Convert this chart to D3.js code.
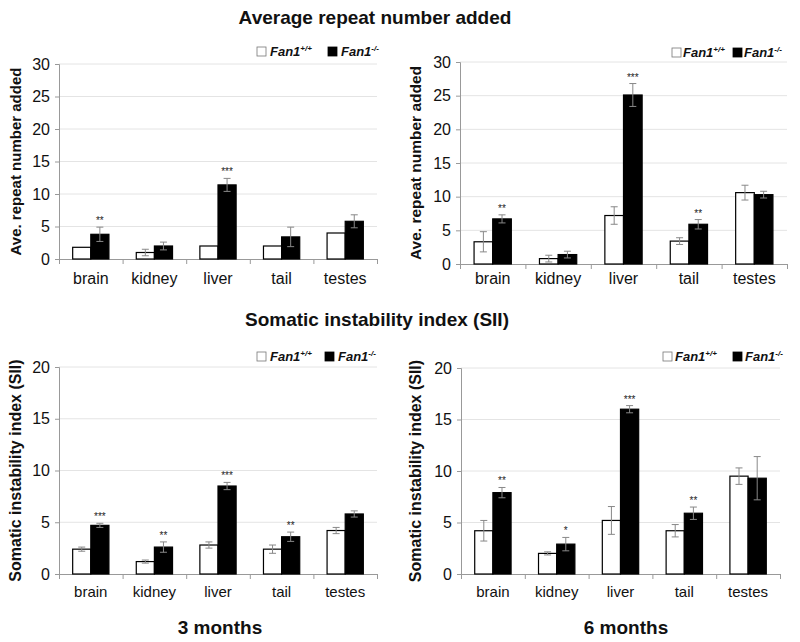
<!DOCTYPE html>
<html>
<head>
<meta charset="utf-8">
<script src="https://cdn.jsdelivr.net/npm/d3@7"></script>
<style>
  body { margin: 0; background: #fff; }
  svg { display: block; }
  text { font-family: "Liberation Sans", Arial, sans-serif; fill: #111; }
</style>
</head>
<body>
<svg id="chart" width="800" height="642"></svg>
<script>
// tissues and genotypes
const categories = ["brain", "kidney", "liver", "tail", "testes"];
const seriesNames = ["+/+", "-/-"];

// average repeat number added, 3 months
const avg3WT = [1.8, 1.0, 2.0, 2.0, 4.0];
const avg3WTErr = [0, 0.5, 0, 0, 0];
const avg3KO = [3.8, 2.0, 11.4, 3.4, 5.8];
const avg3KOErr = [1.1, 0.6, 1.0, 1.5, 1.0];
const avg3Stars = ["**", "", "***", "", ""];

// average repeat number added, 6 months
const avg6WT = [3.3, 0.8, 7.2, 3.4, 10.6];
const avg6WTErr = [1.5, 0.5, 1.3, 0.5, 1.1];
const avg6KO = [6.7, 1.4, 25.1, 5.9, 10.3];
const avg6KOErr = [0.6, 0.5, 1.7, 0.7, 0.5];
const avg6Stars = ["**", "", "***", "**", ""];

// somatic instability index, 3 months
const sii3WT = [2.4, 1.2, 2.8, 2.4, 4.2];
const sii3WTErr = [0.2, 0.15, 0.3, 0.4, 0.3];
const sii3KO = [4.7, 2.6, 8.5, 3.6, 5.8];
const sii3KOErr = [0.2, 0.5, 0.35, 0.45, 0.3];
const sii3Stars = ["***", "**", "***", "**", ""];

// somatic instability index, 6 months
const sii6WT = [4.2, 2.0, 5.2, 4.2, 9.5];
const sii6WTErr = [1.0, 0.15, 1.35, 0.6, 0.8];
const sii6KO = [7.9, 2.9, 16.0, 5.9, 9.3];
const sii6KOErr = [0.5, 0.65, 0.35, 0.6, 2.1];
const sii6Stars = ["**", "*", "***", "**", ""];

const avgTicks = [0, 5, 10, 15, 20, 25, 30];
const siiTicks = [0, 5, 10, 15, 20];

const svg = d3.select("#chart");

function panel(opt) {
  const g = svg.append("g");
  const y = d3.scaleLinear().domain([0, opt.max]).range([opt.y0, opt.yTop]);
  const x = d3.scaleBand().domain(categories).range([opt.x0, opt.x1])
    .paddingInner(0.43).paddingOuter(0.215);
  const xs = d3.scaleBand().domain(seriesNames).range([0, x.bandwidth()]);

  // gridlines
  g.selectAll(".grid").data(opt.ticks.slice(1)).enter().append("line")
    .attr("x1", opt.x0).attr("x2", opt.x1)
    .attr("y1", d => y(d)).attr("y2", d => y(d))
    .attr("stroke", "#e4e4e4").attr("stroke-width", 1);

  // y axis
  const ya = g.append("g").attr("transform", `translate(${opt.x0},0)`)
    .call(d3.axisLeft(y).tickValues(opt.ticks).tickSize(4).tickPadding(5));
  ya.select(".domain").attr("stroke", "#999");
  ya.selectAll(".tick line").attr("stroke", "#999");
  ya.selectAll(".tick text").style("font-size", "16px").style("font-family", "Liberation Sans, Arial").attr("fill", "#222");

  // x axis: boundary ticks and labels
  const lin = d3.scaleLinear().domain([0, categories.length]).range([opt.x0, opt.x1]);
  const xa = g.append("g").attr("transform", `translate(0,${opt.y0})`)
    .call(d3.axisBottom(lin).ticks(categories.length).tickSize(5).tickFormat(""));
  xa.select(".domain").attr("stroke", "#999");
  xa.selectAll(".tick line").attr("stroke", "#999");
  g.selectAll(".cat").data(categories).enter().append("text")
    .attr("x", d => x(d) + x.bandwidth() / 2)
    .attr("y", opt.y0 + opt.labelDy)
    .attr("text-anchor", "middle")
    .style("font-size", opt.catSize + "px")
    .text(d => d);

  // bars
  const rows = [];
  categories.forEach((c, i) => {
    rows.push({ c, s: "+/+", v: opt.wt[i], e: opt.wtErr[i], fill: "#fff" });
    rows.push({ c, s: "-/-", v: opt.ko[i], e: opt.koErr[i], fill: "#000", star: opt.stars[i] });
  });
  g.selectAll(".bar").data(rows).enter().append("rect")
    .attr("x", d => x(d.c) + xs(d.s))
    .attr("y", d => y(d.v))
    .attr("width", xs.bandwidth())
    .attr("height", d => opt.y0 - y(d.v))
    .attr("fill", d => d.fill)
    .attr("stroke", "#000").attr("stroke-width", 1.2);

  // error bars
  const eb = rows.filter(d => d.e > 0);
  const cx = d => x(d.c) + xs(d.s) + xs.bandwidth() / 2;
  g.selectAll(".err").data(eb).enter().append("line")
    .attr("x1", cx).attr("x2", cx)
    .attr("y1", d => y(d.v + d.e)).attr("y2", d => y(d.v - d.e))
    .attr("stroke", "#888").attr("stroke-width", 1);
  [1, -1].forEach(sgn => {
    g.selectAll(".cap" + sgn).data(eb).enter().append("line")
      .attr("x1", d => cx(d) - 3.5).attr("x2", d => cx(d) + 3.5)
      .attr("y1", d => y(d.v + sgn * d.e)).attr("y2", d => y(d.v + sgn * d.e))
      .attr("stroke", "#888").attr("stroke-width", 1);
  });

  // significance
  g.selectAll(".star").data(rows.filter(d => d.star)).enter().append("text")
    .attr("x", cx)
    .attr("y", d => y(d.v + d.e) - 3)
    .attr("text-anchor", "middle")
    .style("font-size", "10px").style("fill", "#222")
    .text(d => d.star);

  // y label
  g.append("text")
    .attr("transform", `translate(${opt.labelX},${(opt.y0 + opt.yTop) / 2}) rotate(-90)`)
    .attr("text-anchor", "middle").attr("dominant-baseline", "middle")
    .style("font-size", opt.ySize + "px").style("font-weight", "bold")
    .text(opt.ylabel);

  // legend
  const lg = g.append("g").attr("transform", `translate(${opt.legX},${opt.legY})`);
  [["#fff", "+/+", 0], ["#000", "-/-", opt.legGap]].forEach(([f, sup, dx]) => {
    lg.append("rect").attr("x", dx).attr("y", -9).attr("width", 9).attr("height", 9)
      .attr("fill", f).attr("stroke", f === "#fff" ? "#777" : "#000").attr("stroke-width", 0.8);
    const t = lg.append("text").attr("x", dx + opt.legTxt).attr("y", 0)
      .style("font-size", "13px").style("font-weight", "bold").style("font-style", "italic");
    t.append("tspan").text("Fan1");
    t.append("tspan").attr("dy", -5).style("font-size", "8px").text(sup);
  });
}

panel({ x0: 59, x1: 377, yTop: 64, y0: 259, max: 30, ticks: avgTicks,
  wt: avg3WT, wtErr: avg3WTErr, ko: avg3KO, koErr: avg3KOErr, stars: avg3Stars,
  ylabel: "Ave. repeat number added", labelX: 17, labelDy: 25, catSize: 16, ySize: 15,
  legX: 257, legY: 56, legGap: 71, legTxt: 13 });
panel({ x0: 460, x1: 787, yTop: 62, y0: 264, max: 30, ticks: avgTicks,
  wt: avg6WT, wtErr: avg6WTErr, ko: avg6KO, koErr: avg6KOErr, stars: avg6Stars,
  ylabel: "Ave. repeat number added", labelX: 417, labelDy: 20, catSize: 16, ySize: 15.5,
  legX: 672, legY: 57, legGap: 61, legTxt: 11 });
panel({ x0: 59, x1: 377, yTop: 367, y0: 574, max: 20, ticks: siiTicks,
  wt: sii3WT, wtErr: sii3WTErr, ko: sii3KO, koErr: sii3KOErr, stars: sii3Stars,
  ylabel: "Somatic instability index (SII)", labelX: 17, labelDy: 23, catSize: 15, ySize: 16,
  legX: 257, legY: 361, legGap: 68, legTxt: 13 });
panel({ x0: 461, x1: 780, yTop: 368, y0: 574, max: 20, ticks: siiTicks,
  wt: sii6WT, wtErr: sii6WTErr, ko: sii6KO, koErr: sii6KOErr, stars: sii6Stars,
  ylabel: "Somatic instability index (SII)", labelX: 417, labelDy: 23, catSize: 15, ySize: 16,
  legX: 663, legY: 361, legGap: 70, legTxt: 12 });

// section titles and time labels
const heads = [
  { t: "Average repeat number added", x: 375, y: 24 },
  { t: "Somatic instability index (SII)", x: 377, y: 326 },
  { t: "3 months", x: 220, y: 634 },
  { t: "6 months", x: 626, y: 634 }
];
svg.selectAll(".head").data(heads).enter().append("text")
  .attr("x", d => d.x).attr("y", d => d.y)
  .attr("text-anchor", "middle")
  .style("font-family", "'Liberation Sans Narrow', 'Liberation Sans', Arial")
  .style("font-size", "19px").style("font-weight", "bold")
  .text(d => d.t);
</script>
</body>
</html>
